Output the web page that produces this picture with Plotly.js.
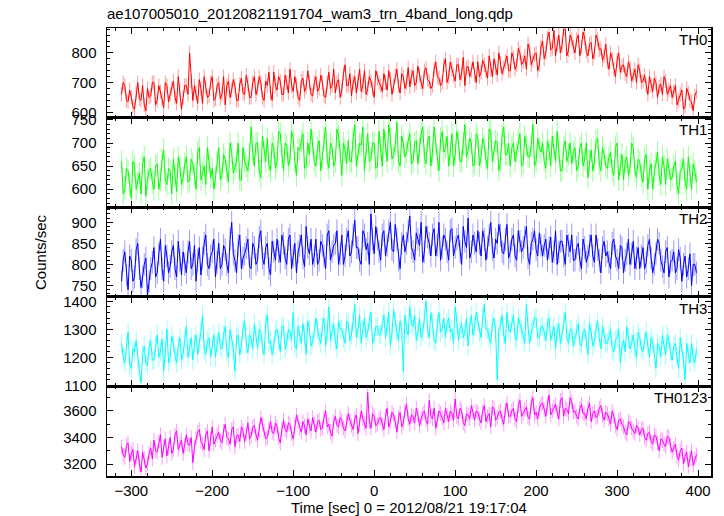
<!DOCTYPE html>
<html>
<head>
<meta charset="utf-8">
<script src="https://cdn.plot.ly/plotly-3.0.1.min.js"></script>
<style>html,body{margin:0;padding:0;background:#fff;}</style>
</head>
<body>
<div id="chart" style="width:724px;height:516px;"></div>
<script>
// Time grid (sec, 0 = 2012/08/21 19:17:04), 2 s sampling
const tStart = -312;
const tStep = 2;

const panelLabels = ["TH0", "TH1", "TH2", "TH3", "TH0123"];
const panelColors = ["#ff0000", "#00ff00", "#0000ff", "#00ffff", "#ff00ff"];
// approximate half-length of the pale error bars seen on each curve
const errSize = [24, 24, 27, 34, 55];

const th0 = [
660,700,690,640,635,675,650,620,610,665,700,645,640,690,625,605,680,650,655,700,
700,625,640,690,670,645,615,700,690,635,660,680,705,650,630,720,675,610,650,690,
690,660,800,705,640,690,665,630,710,680,630,720,685,650,655,700,720,640,645,690,
700,645,660,720,625,690,705,650,675,710,690,640,640,695,715,665,660,725,695,650,
650,700,720,660,680,720,700,650,640,705,690,735,665,640,735,690,675,720,705,660,
660,725,700,665,745,690,670,720,690,650,640,705,715,670,685,740,700,660,655,700,
720,670,680,725,700,655,650,700,735,680,690,745,665,700,710,650,675,730,760,690,
690,730,655,700,720,665,700,745,670,690,740,660,680,720,705,680,650,740,715,700,
690,670,730,700,675,740,710,660,690,725,745,690,665,730,720,680,700,750,685,720,
740,690,700,755,725,700,680,740,750,710,705,680,690,745,770,720,715,690,700,760,
780,700,720,770,745,725,705,760,760,710,730,785,690,750,755,720,740,770,725,700,
770,720,735,775,760,740,715,790,745,720,780,750,725,800,765,730,750,770,790,740,
740,800,785,745,760,815,800,760,770,790,745,830,810,760,775,795,800,740,760,820,
840,780,800,850,870,810,815,875,790,830,860,800,825,880,880,790,810,860,845,820,
800,845,860,790,820,870,850,805,790,830,835,780,800,860,845,810,815,775,790,830,
770,745,800,780,745,720,775,800,735,755,760,730,720,770,750,705,725,745,700,760,
740,700,705,725,690,660,720,690,670,715,700,650,685,695,660,720,705,660,675,690,
650,670,690,625,640,660,675,610,620,680,665,640,635,605,655,670];

const th1 = [
660,590,600,645,640,610,580,660,650,600,615,635,590,655,670,585,620,640,645,615,
600,650,655,600,620,665,685,620,610,645,640,590,665,630,595,670,650,610,625,655,
670,615,620,665,655,630,600,680,690,620,635,650,610,690,660,625,645,600,625,660,
690,620,630,675,665,640,615,700,680,635,645,660,700,620,620,690,660,650,640,675,
735,680,650,700,700,640,625,715,680,660,710,650,640,700,690,645,660,725,720,670,
640,700,695,650,665,725,710,660,630,690,685,705,720,645,650,700,675,730,700,660,
650,690,705,640,670,710,735,665,645,700,690,650,660,730,715,680,630,700,685,655,
705,660,660,710,740,650,675,700,695,735,640,690,720,660,665,700,700,645,650,725,
690,650,730,700,660,740,710,665,675,695,745,660,650,715,700,670,680,705,720,655,
660,700,705,655,690,720,735,670,655,705,715,650,680,735,700,665,640,710,725,680,
690,715,650,680,720,650,675,725,705,660,660,700,740,670,685,710,700,650,655,720,
710,650,670,710,695,665,645,730,725,660,680,705,700,640,660,715,735,675,675,700,
650,690,700,660,680,705,720,650,655,715,695,670,670,695,740,650,660,710,690,680,
700,660,645,705,685,650,715,690,660,725,690,640,640,690,705,660,675,700,655,680,
690,640,650,690,700,650,665,700,625,660,685,640,660,705,710,655,640,690,675,650,
645,670,680,640,630,690,700,620,655,675,620,660,670,630,645,700,690,640,625,665,
660,630,615,665,675,600,640,655,600,640,655,680,630,610,670,650,610,665,645,620,
625,650,660,610,590,640,645,665,615,600,670,630,600,655,640,615];

const th2 = [
760,810,830,775,740,820,810,760,770,835,850,790,745,770,800,815,725,760,790,805,
840,770,780,825,860,790,760,845,820,780,795,830,845,790,770,855,810,775,830,800,
780,830,855,790,800,845,760,810,840,775,815,850,870,800,790,820,830,860,770,805,
850,790,800,845,835,800,780,860,900,825,810,780,845,870,790,815,825,840,860,795,
790,850,840,800,810,865,880,815,800,840,850,790,775,855,830,810,860,830,805,870,
850,815,800,860,870,790,820,850,780,830,845,870,815,795,890,840,825,860,800,820,
860,800,810,855,845,820,790,870,880,810,830,845,850,880,800,825,870,800,820,860,
880,820,830,870,905,840,840,810,800,880,870,835,850,800,920,860,825,890,860,830,
810,870,880,820,845,880,900,835,830,895,860,810,790,850,870,830,850,880,915,840,
830,810,875,860,845,900,805,830,890,865,850,820,870,885,820,845,900,810,840,870,
860,830,810,880,885,820,840,860,870,830,800,890,855,840,910,815,830,870,850,830,
880,850,820,880,860,810,840,870,900,835,815,860,850,895,870,830,825,860,895,815,
830,860,870,820,810,880,855,830,840,865,890,815,800,850,860,880,835,820,875,845,
820,845,860,810,840,865,805,830,880,800,830,855,855,820,800,870,845,830,870,810,
810,840,850,810,790,860,840,805,820,845,870,820,805,870,835,810,780,840,855,820,
830,805,790,850,860,820,810,790,845,840,780,810,825,860,800,825,855,790,815,840,
790,820,840,790,805,845,860,815,780,800,825,860,850,810,795,780,830,840,770,805,
810,830,780,790,835,815,760,800,820,770,790,825,750,800,800,780];

const th3 = [
1250,1200,1180,1240,1290,1170,1160,1230,1220,1260,1195,1150,1110,1210,1240,1180,1170,1235,1260,1190,
1190,1240,1280,1200,1220,1265,1150,1220,1300,1180,1200,1275,1250,1205,1180,1240,1270,1190,1215,1260,
1310,1200,1230,1270,1190,1250,1280,1210,1250,1290,1350,1230,1210,1260,1270,1200,1240,1280,1200,1250,
1290,1240,1230,1280,1310,1220,1200,1300,1260,1230,1150,1270,1280,1210,1240,1300,1330,1250,1215,1280,
1270,1230,1320,1280,1230,1300,1290,1240,1210,1320,1350,1250,1260,1210,1240,1290,1300,1260,1220,1310,
1310,1230,1250,1300,1290,1260,1360,1240,1230,1310,1280,1250,1320,1280,1210,1330,1300,1240,1260,1290,
1340,1300,1270,1250,1310,1340,1240,1290,1380,1260,1290,1320,1260,1230,1330,1300,1300,1270,1250,1330,
1320,1260,1280,1330,1390,1270,1300,1350,1250,1300,1340,1270,1290,1330,1360,1250,1270,1310,1310,1280,
1280,1320,1350,1270,1310,1360,1240,1290,1370,1320,1290,1260,1330,1300,1150,1350,1300,1280,1380,1320,
1310,1350,1260,1290,1340,1270,1290,1340,1400,1300,1270,1360,1320,1260,1250,1320,1360,1290,1300,1340,
1270,1320,1340,1290,1300,1250,1380,1330,1260,1300,1320,1270,1290,1340,1240,1310,1350,1280,1310,1360,
1330,1290,1270,1340,1390,1300,1300,1270,1250,1320,1340,1290,1120,1300,1310,1350,1280,1250,1360,1300,
1290,1320,1350,1270,1260,1340,1320,1300,1280,1250,1390,1310,1250,1290,1310,1340,1340,1270,1270,1310,
1310,1290,1260,1320,1340,1260,1290,1310,1230,1290,1320,1250,1280,1330,1360,1270,1250,1300,1300,1240,
1270,1300,1320,1250,1240,1290,1300,1260,1210,1320,1290,1240,1260,1300,1330,1270,1230,1310,1280,1250,
1250,1280,1300,1230,1220,1260,1270,1300,1180,1240,1260,1220,1310,1270,1230,1250,1280,1230,1200,1290,
1270,1230,1220,1260,1290,1240,1200,1270,1250,1210,1160,1250,1240,1200,1280,1240,1210,1280,1260,1220,
1190,1240,1250,1200,1160,1270,1230,1190,1120,1250,1210,1180,1250,1200,1180,1230];

const th0123 = [
3330,3270,3250,3340,3360,3220,3280,3310,3180,3250,3300,3200,3140,3290,3240,3170,3200,3280,3320,3240,
3380,3300,3290,3370,3420,3250,3330,3390,3260,3320,3400,3280,3310,3420,3450,3310,3350,3380,3280,3340,
3420,3350,3340,3400,3210,3330,3390,3440,3460,3370,3350,3310,3420,3450,3300,3390,3480,3350,3380,3420,
3440,3380,3360,3450,3500,3400,3390,3350,3460,3480,3330,3410,3420,3370,3480,3450,3370,3430,3510,3390,
3410,3480,3490,3420,3380,3460,3550,3500,3450,3390,3400,3470,3520,3440,3430,3510,3480,3400,3360,3460,
3530,3460,3440,3510,3500,3430,3390,3480,3570,3520,3470,3440,3520,3490,3420,3540,3490,3450,3550,3500,
3440,3520,3530,3460,3470,3550,3600,3480,3500,3440,3410,3520,3560,3490,3480,3550,3530,3470,3450,3510,
3580,3530,3490,3460,3540,3570,3430,3500,3600,3540,3510,3470,3740,3520,3470,3580,3560,3490,3500,3540,
3550,3500,3460,3560,3620,3480,3520,3590,3570,3520,3440,3550,3590,3480,3510,3600,3650,3540,3500,3570,
3560,3510,3620,3570,3490,3540,3580,3600,3530,3500,3680,3560,3540,3620,3470,3530,3600,3580,3550,3510,
3620,3570,3520,3600,3580,3530,3690,3560,3540,3620,3600,3510,3490,3580,3570,3540,3640,3590,3530,3600,
3590,3540,3510,3600,3640,3520,3560,3580,3480,3630,3620,3530,3550,3590,3600,3540,3500,3610,3660,3560,
3560,3600,3620,3540,3520,3640,3680,3560,3580,3610,3630,3550,3540,3660,3700,3570,3590,3540,3620,3650,
3660,3610,3560,3650,3720,3570,3600,3630,3650,3590,3540,3680,3700,3560,3620,3610,3580,3700,3670,3590,
3600,3560,3540,3620,3650,3580,3580,3540,3620,3660,3520,3580,3600,3550,3560,3620,3640,3570,3530,3590,
3580,3540,3500,3600,3560,3490,3460,3530,3540,3500,3480,3440,3420,3520,3510,3470,3450,3430,3490,3470,
3420,3460,3470,3400,3380,3430,3440,3370,3350,3420,3410,3360,3300,3390,3380,3350,3330,3410,3400,3340,
3290,3320,3350,3260,3230,3300,3320,3200,3260,3290,3180,3240,3300,3190,3240,3270];

const series = [th0, th1, th2, th3, th0123];

const yRanges = [[582, 884], [561, 755], [723, 936], [1096, 1416], [3110, 3785]];
const yDticks = [100, 50, 50, 100, 200];
const yMinor = [20, 10, 10, 20, 100];

const font = 'Liberation Sans, Arial, Helvetica, sans-serif';
const traces = [];
const layout = {
  width: 724, height: 516,
  margin: {l: 107, r: 13, t: 28, b: 40},
  paper_bgcolor: '#fff', plot_bgcolor: '#fff',
  showlegend: false,
  font: {family: font, size: 15, color: '#000'},
  title: {text: 'ae107005010_20120821191704_wam3_trn_4band_long.qdp',
          x: 0, xref: 'paper', xanchor: 'left',
          y: 1 - 14/516, yref: 'container', yanchor: 'middle',
          font: {family: font, size: 15, color: '#000'}},
  annotations: []
};

const hexToRgba = (h, a) => {
  const r = parseInt(h.slice(1,3),16), g = parseInt(h.slice(3,5),16), b = parseInt(h.slice(5,7),16);
  return 'rgba(' + r + ',' + g + ',' + b + ',' + a + ')';
};

for (let i = 0; i < 5; i++) {
  const sfx = i === 0 ? '' : String(i + 1);
  const t = series[i].map((_, k) => tStart + k * tStep);
  traces.push({
    type: 'scatter', mode: 'lines',
    x: t, y: series[i],
    xaxis: 'x' + sfx, yaxis: 'y' + sfx,
    line: {color: panelColors[i], width: 1},
    error_y: {type: 'constant', value: errSize[i], visible: true, width: 0, thickness: 1,
              color: hexToRgba(panelColors[i], 0.4)},
    hoverinfo: 'skip'
  });
  const xa = {
    anchor: 'y' + sfx, domain: [0, 1], range: [-330, 416],
    tickmode: 'linear', tick0: 0, dtick: 100,
    ticks: 'inside', ticklen: 6, tickwidth: 1, tickcolor: '#000',
    minor: {ticks: 'inside', dtick: 20, tick0: 0, ticklen: 3, tickwidth: 1, tickcolor: '#000', showgrid: false},
    showline: true, linecolor: '#000', linewidth: 1.5, mirror: 'allticks',
    showgrid: false, zeroline: false,
    showticklabels: i === 4,
    tickfont: {family: font, size: 15, color: '#000'}
  };
  if (i > 0) xa.matches = 'x';
  layout['xaxis' + sfx] = xa;
  const lo = (4 - i) * 0.2, hi = (5 - i) * 0.2;
  layout['yaxis' + sfx] = {
    anchor: 'x' + sfx, domain: [lo, hi], range: yRanges[i],
    tickmode: 'linear', tick0: 0, dtick: yDticks[i],
    ticks: 'inside', ticklen: 6, tickwidth: 1, tickcolor: '#000',
    minor: {ticks: 'inside', dtick: yMinor[i], tick0: 0, ticklen: 3, tickwidth: 1, tickcolor: '#000', showgrid: false},
    showline: true, linecolor: '#000', linewidth: 1.5, mirror: 'allticks',
    showgrid: false, zeroline: false,
    ticklabelstandoff: 6,
    tickfont: {family: font, size: 15, color: '#000'}
  };
  layout.annotations.push({
    text: panelLabels[i], xref: 'paper', yref: 'paper',
    x: 1, y: hi, xanchor: 'right', yanchor: 'top', xshift: -2, yshift: -1,
    showarrow: false, font: {family: font, size: 15, color: '#000'}
  });
}

layout.annotations.push({
  text: 'Counts/sec', xref: 'paper', yref: 'paper',
  x: (40 - 107) / 604, y: 0.5, xanchor: 'center', yanchor: 'middle',
  textangle: -90, showarrow: false, font: {family: font, size: 15, color: '#000'}
});
layout.annotations.push({
  text: 'Time [sec] 0 = 2012/08/21 19:17:04', xref: 'paper', yref: 'paper',
  x: 0.5, y: (476 - 507) / 448, xanchor: 'center', yanchor: 'middle',
  showarrow: false, font: {family: font, size: 15, color: '#000'}
});

Plotly.newPlot('chart', traces, layout, {displayModeBar: false, staticPlot: true});
</script>
</body>
</html>
